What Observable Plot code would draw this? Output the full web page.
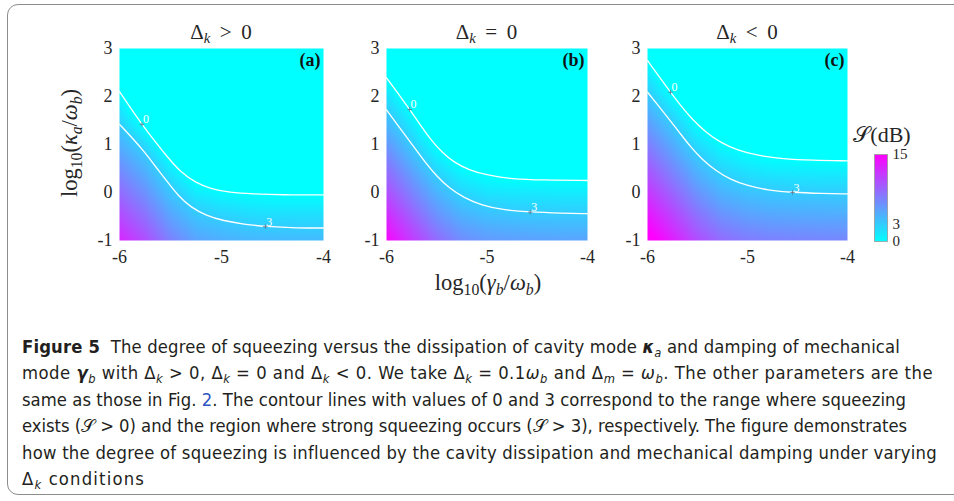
<!DOCTYPE html>
<html><head><meta charset="utf-8">
<script src="https://cdn.jsdelivr.net/npm/d3@7"></script>
<script src="https://cdn.jsdelivr.net/npm/@observablehq/plot@0.6"></script>
<style>
html,body{margin:0;padding:0;background:#fff;width:954px;height:501px;overflow:hidden;}
#root{position:relative;width:954px;height:501px;overflow:hidden;}
.frame{position:absolute;left:7px;top:4px;width:975px;height:491px;border:1.5px solid #8c8c8c;border-radius:11px;box-sizing:border-box;}
.abs{position:absolute;white-space:nowrap;}
.serif{font-family:"Liberation Serif","Times New Roman",serif;color:#262626;}
.ttl{font-size:21px;transform:translate(-50%,-50%);}
sub{font-size:70%;vertical-align:-0.3em;line-height:0;}
.cap{font-family:"DejaVu Sans Condensed","DejaVu Sans",sans-serif;font-stretch:condensed;font-size:18.3px;color:#231f20;line-height:26.4px;}
.cap .l{white-space:nowrap;display:block;width:fit-content;}
.link{color:#2f54c4;}
svg{overflow:visible;}
</style></head>
<body><div id="root"><div class="frame"></div></div>
<script>
// ---- data ----
const xTicks = [-6, -5, -4];
const yTicks = [-1, 0, 1, 2, 3];
const cbTicks = [0, 3, 15];
const panelTags = ["(a)", "(b)", "(c)"];
const xGrid = [-6, -5.75, -5.5, -5.25, -5, -4.75, -4.5, -4.25, -4];
const yGrid = [3, 2.75, 2.5, 2.25, 2, 1.75, 1.5, 1.25, 1, 0.75, 0.5, 0.25, 0, -0.25, -0.5, -0.75, -1];
// squeezing S(dB), rows = yGrid (top to bottom), columns = xGrid
const sA = [
  [-3,-3,-3,-3,-3,-3,-3,-3,-3],
  [-2.9,-3,-3,-3,-3,-3,-3,-3,-3],
  [-1.8,-3,-3,-3,-3,-3,-3,-3,-3],
  [-0.7,-3,-3,-3,-3,-3,-3,-3,-3],
  [0.4,-3,-3,-3,-3,-3,-3,-3,-3],
  [1.5,-2.4,-3,-3,-3,-3,-3,-3,-3],
  [2.6,-0.9,-3,-3,-3,-3,-3,-3,-3],
  [3.7,0.6,-2.8,-3,-3,-3,-3,-3,-3],
  [4.7,2.1,-1.5,-3,-3,-3,-3,-3,-3],
  [5.7,3.4,-0.3,-2.8,-3,-3,-3,-3,-3],
  [6.7,4.4,1.0,-1.5,-2.2,-2.3,-2.4,-2.4,-2.4],
  [7.7,5.4,2.3,-0.3,-1.0,-1.2,-1.3,-1.3,-1.3],
  [8.7,6.4,3.4,1.0,0.2,-0.05,-0.2,-0.2,-0.2],
  [9.7,7.4,4.4,2.3,1.5,1.1,0.9,0.9,0.9],
  [10.7,8.4,5.4,3.4,2.7,2.2,2.0,2.0,2.0],
  [11.7,9.4,6.4,4.4,3.7,3.3,3.1,3.0,3.0],
  [12.7,10.4,7.4,5.4,4.7,4.3,4.1,4.0,4.0]
];
const sB = [
  [-2.7,-3,-3,-3,-3,-3,-3,-3,-3],
  [-1.6,-3,-3,-3,-3,-3,-3,-3,-3],
  [-0.5,-3,-3,-3,-3,-3,-3,-3,-3],
  [0.6,-2.6,-3,-3,-3,-3,-3,-3,-3],
  [1.8,-1.4,-3,-3,-3,-3,-3,-3,-3],
  [2.9,-0.3,-3,-3,-3,-3,-3,-3,-3],
  [4.0,0.8,-2.8,-3,-3,-3,-3,-3,-3],
  [5.0,1.9,-1.6,-3,-3,-3,-3,-3,-3],
  [6.1,3.0,-0.3,-2.1,-3,-3,-3,-3,-3],
  [7.2,4.1,0.9,-1.0,-1.9,-2.1,-2.2,-2.2,-2.2],
  [8.3,5.2,2.1,0.1,-0.8,-1.0,-1.1,-1.1,-1.1],
  [9.3,6.3,3.3,1.3,0.4,0.1,0.0,0.0,0.0],
  [10.4,7.3,4.4,2.4,1.5,1.3,1.2,1.1,1.1],
  [11.5,8.4,5.5,3.5,2.7,2.4,2.3,2.2,2.2],
  [12.6,9.5,6.5,4.6,3.8,3.5,3.3,3.3,3.3],
  [13.6,10.6,7.6,5.7,4.9,4.6,4.4,4.3,4.3],
  [14.7,11.6,8.7,6.7,5.9,5.7,5.5,5.4,5.4]
];
const sC = [
  [-1.1,-3,-3,-3,-3,-3,-3,-3,-3],
  [0.0,-3,-3,-3,-3,-3,-3,-3,-3],
  [1.1,-2.3,-3,-3,-3,-3,-3,-3,-3],
  [2.3,-1.1,-3,-3,-3,-3,-3,-3,-3],
  [3.4,0.2,-2.6,-3,-3,-3,-3,-3,-3],
  [4.4,1.5,-1.5,-3,-3,-3,-3,-3,-3],
  [5.5,2.7,-0.3,-2.1,-2.9,-3,-3,-3,-3],
  [6.5,3.8,0.8,-1.0,-1.8,-2.4,-2.5,-2.6,-2.6],
  [7.6,4.9,2.0,0.1,-0.8,-1.3,-1.4,-1.5,-1.5],
  [8.6,5.9,3.1,1.2,0.3,-0.2,-0.3,-0.4,-0.4],
  [9.7,7.0,4.2,2.3,1.4,0.9,0.8,0.7,0.7],
  [10.7,8.0,5.2,3.3,2.4,2.1,1.9,1.8,1.8],
  [11.8,9.1,6.3,4.4,3.5,3.2,3.0,2.9,2.9],
  [12.8,10.1,7.3,5.4,4.6,4.2,4.1,4.0,3.9],
  [13.9,11.2,8.4,6.5,5.6,5.3,5.1,5.0,5.0],
  [14.9,12.2,9.4,7.5,6.7,6.3,6.2,6.1,6.0],
  [16.0,13.3,10.5,8.6,7.7,7.4,7.2,7.1,7.1]
];
// contour lines S = 0 and S = 3 : [x, y]
const contA0 = [[-6,2.10],[-5.9,1.79],[-5.78,1.42],[-5.65,1.06],[-5.53,0.74],[-5.40,0.42],[-5.25,0.20],[-5.10,0.07],[-4.92,0.0],[-4.70,-0.03],[-4.40,-0.05],[-4,-0.05]];
const contA3 = [[-6,1.42],[-5.88,1.15],[-5.76,0.86],[-5.65,0.55],[-5.53,0.22],[-5.42,-0.08],[-5.30,-0.31],[-5.15,-0.48],[-4.98,-0.59],[-4.78,-0.66],[-4.57,-0.71],[-4.25,-0.74],[-4,-0.74]];
const contB0 = [[-6,2.39],[-5.88,2.05],[-5.77,1.73],[-5.66,1.40],[-5.56,1.10],[-5.45,0.84],[-5.33,0.63],[-5.18,0.47],[-5.0,0.36],[-4.75,0.28],[-4.45,0.26],[-4,0.25]];
const contB3 = [[-6,1.72],[-5.87,1.35],[-5.73,0.96],[-5.62,0.64],[-5.50,0.34],[-5.38,0.10],[-5.23,-0.11],[-5.05,-0.27],[-4.85,-0.36],[-4.57,-0.41],[-4.25,-0.43],[-4,-0.44]];
const contC0 = [[-6,2.75],[-5.88,2.40],[-5.77,2.09],[-5.66,1.79],[-5.55,1.52],[-5.42,1.26],[-5.27,1.04],[-5.10,0.88],[-4.90,0.77],[-4.65,0.70],[-4.35,0.67],[-4,0.66]];
const contC3 = [[-6,2.09],[-5.9,1.83],[-5.8,1.57],[-5.68,1.25],[-5.57,0.95],[-5.45,0.68],[-5.32,0.46],[-5.17,0.27],[-5.0,0.14],[-4.80,0.05],[-4.55,0.0],[-4.25,-0.02],[-4,-0.03]];
// contour label positions [x, y, level]
const labA = [[-5.78,1.42,"0"],[-4.57,-0.71,"3"]];
const labB = [[-5.77,1.73,"0"],[-4.57,-0.41,"3"]];
const labC = [[-5.77,2.09,"0"],[-4.55,0.0,"3"]];

// ---- drawing ----
const root = document.getElementById("root");
const serif = '"Liberation Serif","Times New Roman",serif';
const colorScale = {type:"linear", domain:[0,15], range:["#00ffff","#ff00ff"], interpolate:"rgb", clamp:true};
const fmt = d => String(d);

function place(node, left, top){ node.style.position="absolute"; node.style.left=left+"px"; node.style.top=top+"px"; root.appendChild(node); }
function html(cls, content, left, top){ const d=document.createElement("div"); d.className="abs "+cls; d.innerHTML=content; d.style.left=left+"px"; d.style.top=top+"px"; root.appendChild(d); return d; }

const panels = [
  {S:sA, c0:contA0, c3:contA3, lab:labA, tag:panelTags[0], left:119, w:204},
  {S:sB, c0:contB0, c3:contB3, lab:labB, tag:panelTags[1], left:386, w:201},
  {S:sC, c0:contC0, c3:contC3, lab:labC, tag:panelTags[2], left:647, w:200}
];
const mL = 45, mR = 12, mT = 48, pH = 192, mB = 40;
for (const p of panels) {
  const grid = yGrid.flatMap((y,i) => xGrid.map((x,j) => ({x, y, s:p.S[i][j]})));
  const lines = [...p.c0.map(([x,y]) => ({x,y,level:"0"})), ...p.c3.map(([x,y]) => ({x,y,level:"3"}))];
  const labs = p.lab.map(([x,y,t]) => ({x,y,t}));
  const chart = Plot.plot({
    width: mL + p.w + mR, height: mT + pH + mB,
    marginLeft: mL, marginRight: mR, marginTop: mT, marginBottom: mB,
    style: {fontFamily: serif, fontSize: "18px", color: "#262626", background: "transparent"},
    x: {domain:[-6,-4], label:null, axis:null},
    y: {domain:[-1,3], label:null, axis:null},
    color: colorScale,
    marks: [
      Plot.raster(grid, {x:"x", y:"y", fill:"s", interpolate:"barycentric", x1:-6, x2:-4, y1:-1, y2:3, pixelSize:1}),
      Plot.line(lines, {x:"x", y:"y", z:"level", stroke:"white", strokeWidth:1.3, curve:"basis"}),
      Plot.dot(labs, {x:"x", y:"y", symbol:"plus", r:1.6, stroke:"#5a6a80", strokeWidth:0.7}),
      Plot.text(labs, {x:"x", y:"y", text:"t", fill:"white", fontSize:12, textAnchor:"start", lineAnchor:"bottom", dx:1, dy:-1}),
      Plot.text([p.tag], {text:d=>d, frameAnchor:"top-right", lineAnchor:"top", dx:-3, dy:5, fontWeight:"bold", fontSize:18, fill:"#111"}),
      Plot.axisX({ticks:xTicks, tickFormat:fmt, tickSize:0, tickPadding:10, fontSize:18}),
      Plot.axisY({ticks:yTicks, tickFormat:fmt, tickSize:0, tickPadding:7, fontSize:18})
    ]
  });
  place(chart, p.left - mL, 0);
}

// colour bar
const cb = Plot.plot({
  width: 13 + 30, height: 154 + 87 + 20,
  marginLeft: 0, marginRight: 30, marginTop: 154, marginBottom: 20,
  style: {fontFamily: serif, fontSize: "15px", color: "#262626", background: "transparent"},
  x: {domain:[0,1], axis:null},
  y: {domain:[0,15], axis:null},
  color: colorScale,
  marks: [
    Plot.raster({fill:(x,y) => y, x1:0, x2:1, y1:0, y2:15, pixelSize:1}),
    Plot.frame({stroke:"#9a9a9a", strokeWidth:0.8}),
    Plot.axisY({anchor:"right", ticks:cbTicks, tickFormat:fmt, tickSize:0, tickPadding:5, fontSize:15})
  ]
});
place(cb, 874, 0);

// titles and labels
const titles = ["Δ<sub><i>k</i></sub>&thinsp; &gt; &thinsp;0", "Δ<sub><i>k</i></sub>&thinsp; = &thinsp;0", "Δ<sub><i>k</i></sub>&thinsp; &lt; &thinsp;0"];
panels.forEach((p,i) => html("serif ttl", titles[i], p.left + p.w/2, 32));
const yl = html("serif", "log<sub>10</sub>(<i>κ</i><sub><i>a</i></sub>/<i>ω</i><sub><i>b</i></sub>)", 70, 143);
yl.style.fontSize = "22.5px"; yl.style.transform = "translate(-50%,-50%) rotate(-90deg)";
const xl = html("serif ttl", "log<sub>10</sub>(<i>γ</i><sub><i>b</i></sub>/<i>ω</i><sub><i>b</i></sub>)", 488, 283);
xl.style.fontSize = "22.5px";
const cl = html("serif ttl", "𝒮(dB)", 882, 135); cl.style.fontSize = "22px";

// caption
const cap = document.createElement("div");
cap.className = "cap abs";
cap.style.left = "22px"; cap.style.top = "334px";
const capLines = [
  "<b>Figure 5</b>&nbsp; The degree of squeezing versus the dissipation of cavity mode <b><i>κ</i></b><sub><i>a</i></sub> and damping of mechanical",
  "mode <b><i>γ</i></b><sub><i>b</i></sub> with Δ<sub><i>k</i></sub> &gt; 0, Δ<sub><i>k</i></sub> = 0 and Δ<sub><i>k</i></sub> &lt; 0. We take Δ<sub><i>k</i></sub> = 0.1<i>ω</i><sub><i>b</i></sub> and Δ<sub><i>m</i></sub> = <i>ω</i><sub><i>b</i></sub>. The other parameters are the",
  "same as those in Fig. <span class='link'>2</span>. The contour lines with values of 0 and 3 correspond to the range where squeezing",
  "exists (𝒮 &gt; 0) and the region where strong squeezing occurs (𝒮 &gt; 3), respectively. The figure demonstrates",
  "how the degree of squeezing is influenced by the cavity dissipation and mechanical damping under varying",
  "Δ<sub><i>k</i></sub> conditions"
];
const capRight = [900, 933, 906, 907, 937, 145];
cap.innerHTML = capLines.map(s => "<div class='l'>" + s + "</div>").join("");
root.appendChild(cap);
// fit each caption line to the reference line length
cap.querySelectorAll(".l").forEach((el, i) => {
  const w = el.getBoundingClientRect().width;
  const n = el.textContent.length;
  const target = capRight[i] - 22;
  el.style.letterSpacing = ((target - w) / n) + "px";
});
</script>
</body></html>
